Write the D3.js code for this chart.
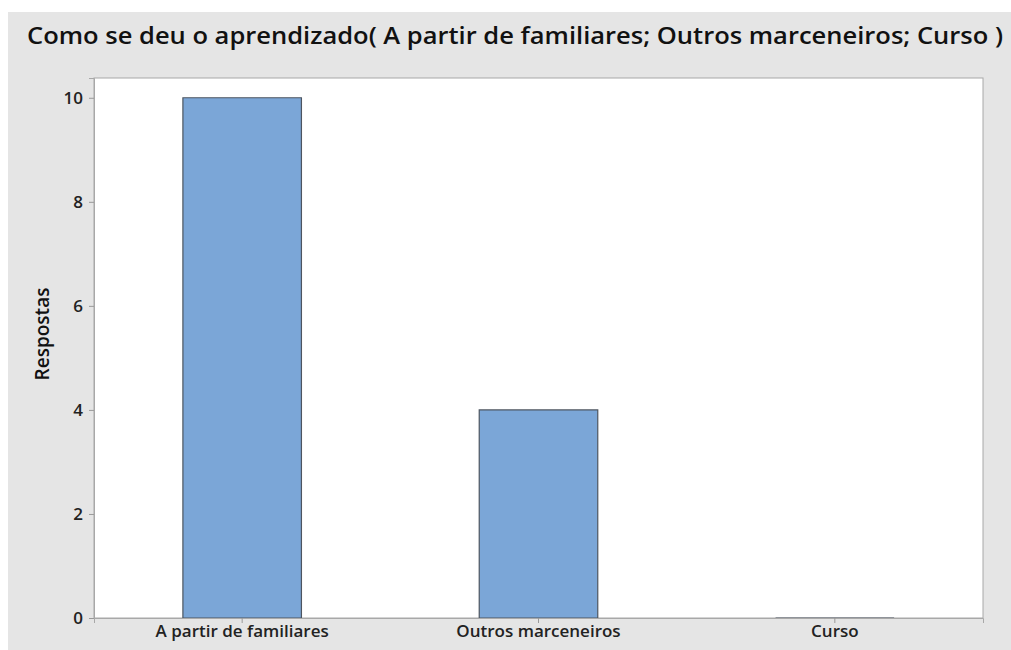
<!DOCTYPE html>
<html><head><meta charset="utf-8">
<script src="https://cdn.jsdelivr.net/npm/d3@7"></script>
<style>html,body{margin:0;padding:0;background:#fff;}svg{display:block;}</style>
</head><body>
<svg id="chart" width="1011" height="650"></svg>
<script>
const categories = ["A partir de familiares", "Outros marceneiros", "Curso"];
const values = [10, 4, 0];
const yTicks = [0, 2, 4, 6, 8, 10];
const title = "Como se deu o aprendizado( A partir de familiares; Outros marceneiros; Curso )";
const yLabel = "Respostas";

const W = 1011, H = 650;
const plot = {left: 94, right: 983, top: 78, bottom: 618};
const svg = d3.select("#chart");
const font = "'Open Sans', 'Noto Sans', sans-serif";

svg.append("rect").attr("x", 8).attr("y", 12).attr("width", W - 8).attr("height", H - 12).attr("fill", "#e5e5e5");
svg.append("rect").attr("x", plot.left).attr("y", plot.top).attr("width", plot.right - plot.left).attr("height", plot.bottom - plot.top)
  .attr("fill", "#fff").attr("stroke", "#a8a8a8").attr("stroke-width", 1);

const x = d3.scaleBand().domain(categories).range([plot.left, plot.right]).paddingInner(0.6).paddingOuter(0.3);
const y = d3.scaleLinear().domain([0, 10.38]).range([plot.bottom, plot.top]);

svg.append("g").selectAll("path").data(values).join("path")
  .attr("d", (d, i) => {
    const x0 = x(categories[i]), x1 = x0 + x.bandwidth(), y0 = y(0), y1 = y(d);
    return `M${x0},${y0}L${x0},${y1}L${x1},${y1}L${x1},${y0}Z`;
  })
  .attr("fill", "#7ba6d7").attr("stroke", "#4d5560").attr("stroke-width", 1.2);

const yAxis = svg.append("g").attr("transform", `translate(${plot.left},0)`)
  .call(d3.axisLeft(y).tickValues(yTicks).tickSize(5).tickPadding(6).tickFormat(d3.format("d")));
yAxis.select(".domain").attr("stroke", "#a8a8a8");
yAxis.selectAll(".tick line").attr("stroke", "#999");
yAxis.selectAll("text").attr("font-family", font).attr("font-size", 17).attr("font-weight", 600).attr("fill", "#222");

const xAxis = svg.append("g").attr("transform", `translate(0,${plot.bottom})`)
  .call(d3.axisBottom(x).tickSize(5).tickPadding(2));
xAxis.select(".domain").attr("stroke", "#a8a8a8");
xAxis.selectAll(".tick line").attr("stroke", "#999");
xAxis.selectAll("text").attr("font-family", font).attr("font-size", 17).attr("font-weight", 600).attr("fill", "#222");

svg.append("text").attr("x", 27).attr("y", 44).attr("font-family", font).attr("font-size", 24).attr("font-weight", 600)
  .attr("fill", "#111").attr("textLength", 976).attr("lengthAdjust", "spacingAndGlyphs").text(title);

svg.append("text").attr("transform", `translate(49,334) rotate(-90)`)
  .attr("text-anchor", "middle").attr("font-family", font).attr("font-size", 19).attr("font-weight", 600)
  .attr("fill", "#111").text(yLabel);
</script>
</body></html>
